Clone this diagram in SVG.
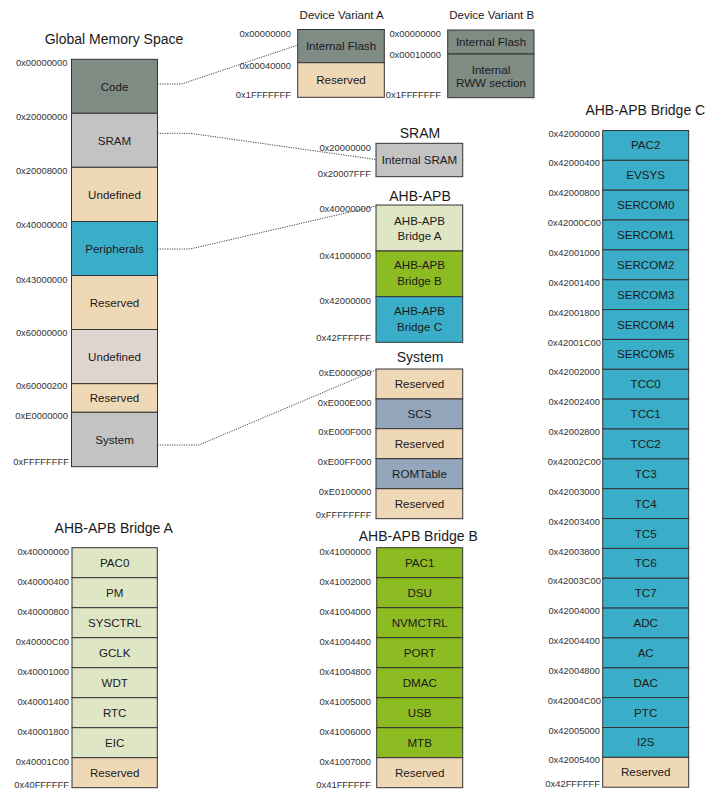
<svg xmlns="http://www.w3.org/2000/svg" width="712" height="793" viewBox="0 0 712 793">
<style>
text{font-family:"Liberation Sans",Arial,sans-serif;}
.t{font-size:14px;fill:#1a1a1a;text-anchor:middle;}
.tv{font-size:11.5px;fill:#1a1a1a;text-anchor:middle;}
.r{font-size:11.6px;fill:#1a1a1a;text-anchor:middle;}
.l{font-size:9.4px;fill:#333;text-anchor:end;}
rect{stroke:#333;stroke-width:1;}
.code{fill:#7f8c84;}
.sram{fill:#c3c3c3;}
.res{fill:#efd8b6;}
.per{fill:#3aaec8;}
.und2{fill:#dfd5ce;}
.ba{fill:#dfe6c5;}
.bb{fill:#8dbb22;}
.scs{fill:#94a6bc;}
.conn polyline{fill:none;stroke:#444;stroke-width:1;stroke-dasharray:1.2 1.2;}
</style>

<g id="global">
<text class="t" x="114" y="44.3">Global Memory Space</text>
<rect class="code" x="71.5" y="59.3" width="86" height="54"/>
<rect class="sram" x="71.5" y="113.3" width="86" height="54"/>
<rect class="res" x="71.5" y="167.3" width="86" height="54.2"/>
<rect class="per" x="71.5" y="221.5" width="86" height="54"/>
<rect class="res" x="71.5" y="275.5" width="86" height="54"/>
<rect class="und2" x="71.5" y="329.5" width="86" height="54.2"/>
<rect class="res" x="71.5" y="383.7" width="86" height="28.6"/>
<rect class="sram" x="71.5" y="412.3" width="86" height="54.4"/>
<text class="r" x="114.5" y="90.5">Code</text>
<text class="r" x="114.5" y="144.5">SRAM</text>
<text class="r" x="114.5" y="198.5">Undefined</text>
<text class="r" x="114.5" y="252.5">Peripherals</text>
<text class="r" x="114.5" y="306.5">Reserved</text>
<text class="r" x="114.5" y="360.6">Undefined</text>
<text class="r" x="114.5" y="402">Reserved</text>
<text class="r" x="114.5" y="443.5">System</text>
<text class="l" x="67.5" y="65.6">0x00000000</text>
<text class="l" x="67.5" y="120">0x20000000</text>
<text class="l" x="67.5" y="174">0x20008000</text>
<text class="l" x="67.5" y="228">0x40000000</text>
<text class="l" x="67.5" y="282.6">0x43000000</text>
<text class="l" x="67.5" y="336">0x60000000</text>
<text class="l" x="67.5" y="389.3">0x60000200</text>
<text class="l" x="68" y="419.3">0xE0000000</text>
<text class="l" x="69" y="465">0xFFFFFFFF</text>
</g>

<g id="variantA">
<text class="tv" x="341.7" y="18.8">Device Variant A</text>
<rect class="code" x="297.7" y="29.5" width="86.6" height="33.2"/>
<rect class="res" x="297.7" y="62.7" width="86.6" height="34.6"/>
<text class="r" x="341" y="50">Internal Flash</text>
<text class="r" x="341" y="84">Reserved</text>
<text class="l" x="291" y="36.6">0x00000000</text>
<text class="l" x="291" y="69">0x00040000</text>
<text class="l" x="291" y="97.6">0x1FFFFFFF</text>
</g>

<g id="variantB">
<text class="tv" x="491.7" y="18.8">Device Variant B</text>
<rect class="code" x="447.7" y="30" width="86.3" height="24"/>
<rect class="code" x="447.7" y="54" width="86.3" height="43.7"/>
<text class="r" x="491" y="46">Internal Flash</text>
<text class="r" x="491" y="74">Internal</text>
<text class="r" x="491" y="87.3">RWW section</text>
<text class="l" x="441" y="36.6">0x00000000</text>
<text class="l" x="441" y="57.6">0x00010000</text>
<text class="l" x="441" y="98.3">0x1FFFFFFF</text>
</g>

<g id="sram">
<text class="t" x="420" y="138.3">SRAM</text>
<rect class="sram" x="376" y="143.3" width="86.7" height="33.4"/>
<text class="r" x="419.5" y="164">Internal SRAM</text>
<text class="l" x="371" y="151">0x20000000</text>
<text class="l" x="371" y="176.6">0x20007FFF</text>
</g>

<g id="ahbapb">
<text class="t" x="420" y="200.7">AHB-APB</text>
<rect class="ba" x="376" y="205" width="86.7" height="46"/>
<rect class="bb" x="376" y="251" width="86.7" height="45.7"/>
<rect class="per" x="376" y="296.7" width="86.7" height="45.6"/>
<text class="r" x="419.5" y="225">AHB-APB</text>
<text class="r" x="419.5" y="239.7">Bridge A</text>
<text class="r" x="419.5" y="269">AHB-APB</text>
<text class="r" x="419.5" y="285">Bridge B</text>
<text class="r" x="419.5" y="315">AHB-APB</text>
<text class="r" x="419.5" y="331">Bridge C</text>
<text class="l" x="371" y="212.3">0x40000000</text>
<text class="l" x="371" y="258.6">0x41000000</text>
<text class="l" x="371" y="304.3">0x42000000</text>
<text class="l" x="371" y="341">0x42FFFFFF</text>
</g>

<g id="system">
<text class="t" x="420" y="362.3">System</text>
<rect class="res" x="376" y="369" width="86.7" height="30"/>
<rect class="scs" x="376" y="399" width="86.7" height="29.7"/>
<rect class="res" x="376" y="428.7" width="86.7" height="30"/>
<rect class="scs" x="376" y="458.7" width="86.7" height="30"/>
<rect class="res" x="376" y="488.7" width="86.7" height="30"/>
<text class="r" x="419.5" y="388">Reserved</text>
<text class="r" x="419.5" y="418">SCS</text>
<text class="r" x="419.5" y="447.7">Reserved</text>
<text class="r" x="419.5" y="477.7">ROMTable</text>
<text class="r" x="419.5" y="507.7">Reserved</text>
<text class="l" x="371.5" y="376">0xE0000000</text>
<text class="l" x="371.5" y="405.6">0xE000E000</text>
<text class="l" x="371.5" y="435.3">0xE000F000</text>
<text class="l" x="371.5" y="465.3">0xE00FF000</text>
<text class="l" x="371.5" y="495.3">0xE0100000</text>
<text class="l" x="371.5" y="517.6">0xFFFFFFFF</text>
</g>

<g id="bridgeA">
<text class="t" x="113.7" y="533.3">AHB-APB Bridge A</text>
<rect class="ba" x="72" y="547.7" width="85.3" height="30"/>
<rect class="ba" x="72" y="577.7" width="85.3" height="30"/>
<rect class="ba" x="72" y="607.7" width="85.3" height="30"/>
<rect class="ba" x="72" y="637.7" width="85.3" height="30"/>
<rect class="ba" x="72" y="667.7" width="85.3" height="30"/>
<rect class="ba" x="72" y="697.7" width="85.3" height="30"/>
<rect class="ba" x="72" y="727.7" width="85.3" height="30"/>
<rect class="res" x="72" y="757.7" width="85.3" height="30"/>
<text class="r" x="114.7" y="566.7">PAC0</text>
<text class="r" x="114.7" y="596.7">PM</text>
<text class="r" x="114.7" y="626.7">SYSCTRL</text>
<text class="r" x="114.7" y="656.7">GCLK</text>
<text class="r" x="114.7" y="686.7">WDT</text>
<text class="r" x="114.7" y="716.7">RTC</text>
<text class="r" x="114.7" y="746.7">EIC</text>
<text class="r" x="114.7" y="776.7">Reserved</text>
<text class="l" x="69" y="555.2">0x40000000</text>
<text class="l" x="69" y="585.2">0x40000400</text>
<text class="l" x="69" y="615.2">0x40000800</text>
<text class="l" x="69" y="645.2">0x40000C00</text>
<text class="l" x="69" y="675.2">0x40001000</text>
<text class="l" x="69" y="705.2">0x40001400</text>
<text class="l" x="69" y="735.2">0x40001800</text>
<text class="l" x="69" y="765.2">0x40001C00</text>
<text class="l" x="69" y="787.5">0x40FFFFFF</text>
</g>

<g id="bridgeB">
<text class="t" x="418.3" y="541">AHB-APB Bridge B</text>
<rect class="bb" x="376.7" y="547.7" width="86" height="30"/>
<rect class="bb" x="376.7" y="577.7" width="86" height="30"/>
<rect class="bb" x="376.7" y="607.7" width="86" height="30"/>
<rect class="bb" x="376.7" y="637.7" width="86" height="30"/>
<rect class="bb" x="376.7" y="667.7" width="86" height="30"/>
<rect class="bb" x="376.7" y="697.7" width="86" height="30"/>
<rect class="bb" x="376.7" y="727.7" width="86" height="30"/>
<rect class="res" x="376.7" y="757.7" width="86" height="30"/>
<text class="r" x="419.7" y="566.7">PAC1</text>
<text class="r" x="419.7" y="596.7">DSU</text>
<text class="r" x="419.7" y="626.7">NVMCTRL</text>
<text class="r" x="419.7" y="656.7">PORT</text>
<text class="r" x="419.7" y="686.7">DMAC</text>
<text class="r" x="419.7" y="716.7">USB</text>
<text class="r" x="419.7" y="746.7">MTB</text>
<text class="r" x="419.7" y="776.7">Reserved</text>
<text class="l" x="371" y="555">0x41000000</text>
<text class="l" x="371" y="584.5">0x41002000</text>
<text class="l" x="371" y="614.5">0x41004000</text>
<text class="l" x="371" y="644.5">0x41004400</text>
<text class="l" x="371" y="674.5">0x41004800</text>
<text class="l" x="371" y="704.5">0x41005000</text>
<text class="l" x="371" y="734.5">0x41006000</text>
<text class="l" x="371" y="764.5">0x41007000</text>
<text class="l" x="371" y="787.5">0x41FFFFFF</text>
</g>

<g id="bridgeC">
<text class="t" x="645.3" y="115">AHB-APB Bridge C</text>
<rect class="per" x="602.7" y="130.5" width="86" height="29.85"/>
<rect class="per" x="602.7" y="160.35" width="86" height="29.85"/>
<rect class="per" x="602.7" y="190.2" width="86" height="29.85"/>
<rect class="per" x="602.7" y="220.05" width="86" height="29.85"/>
<rect class="per" x="602.7" y="249.9" width="86" height="29.85"/>
<rect class="per" x="602.7" y="279.75" width="86" height="29.85"/>
<rect class="per" x="602.7" y="309.6" width="86" height="29.85"/>
<rect class="per" x="602.7" y="339.45" width="86" height="29.85"/>
<rect class="per" x="602.7" y="369.3" width="86" height="29.85"/>
<rect class="per" x="602.7" y="399.15" width="86" height="29.85"/>
<rect class="per" x="602.7" y="429" width="86" height="29.85"/>
<rect class="per" x="602.7" y="458.85" width="86" height="29.85"/>
<rect class="per" x="602.7" y="488.7" width="86" height="29.85"/>
<rect class="per" x="602.7" y="518.55" width="86" height="29.85"/>
<rect class="per" x="602.7" y="548.4" width="86" height="29.85"/>
<rect class="per" x="602.7" y="578.25" width="86" height="29.85"/>
<rect class="per" x="602.7" y="608.1" width="86" height="29.85"/>
<rect class="per" x="602.7" y="637.95" width="86" height="29.85"/>
<rect class="per" x="602.7" y="667.8" width="86" height="29.85"/>
<rect class="per" x="602.7" y="697.65" width="86" height="29.85"/>
<rect class="per" x="602.7" y="727.5" width="86" height="29.85"/>
<rect class="res" x="602.7" y="757.35" width="86" height="29.85"/>
<text class="r" x="645.7" y="149.4">PAC2</text>
<text class="r" x="645.7" y="179.3">EVSYS</text>
<text class="r" x="645.7" y="209.1">SERCOM0</text>
<text class="r" x="645.7" y="239">SERCOM1</text>
<text class="r" x="645.7" y="268.8">SERCOM2</text>
<text class="r" x="645.7" y="298.7">SERCOM3</text>
<text class="r" x="645.7" y="328.5">SERCOM4</text>
<text class="r" x="645.7" y="358.4">SERCOM5</text>
<text class="r" x="645.7" y="388.2">TCC0</text>
<text class="r" x="645.7" y="418.1">TCC1</text>
<text class="r" x="645.7" y="447.9">TCC2</text>
<text class="r" x="645.7" y="477.8">TC3</text>
<text class="r" x="645.7" y="507.6">TC4</text>
<text class="r" x="645.7" y="537.5">TC5</text>
<text class="r" x="645.7" y="567.3">TC6</text>
<text class="r" x="645.7" y="597.2">TC7</text>
<text class="r" x="645.7" y="627">ADC</text>
<text class="r" x="645.7" y="656.9">AC</text>
<text class="r" x="645.7" y="686.7">DAC</text>
<text class="r" x="645.7" y="716.6">PTC</text>
<text class="r" x="645.7" y="746.4">I2S</text>
<text class="r" x="645.7" y="776.3">Reserved</text>
<text class="l" x="600" y="136.6">0x42000000</text>
<text class="l" x="600" y="166.4">0x42000400</text>
<text class="l" x="600" y="196.3">0x42000800</text>
<text class="l" x="601" y="226.1">0x42000C00</text>
<text class="l" x="600" y="256">0x42001000</text>
<text class="l" x="600" y="285.8">0x42001400</text>
<text class="l" x="600" y="315.7">0x42001800</text>
<text class="l" x="601" y="345.5">0x42001C00</text>
<text class="l" x="600" y="375.4">0x42002000</text>
<text class="l" x="600" y="405.2">0x42002400</text>
<text class="l" x="600" y="435.1">0x42002800</text>
<text class="l" x="601" y="464.9">0x42002C00</text>
<text class="l" x="600" y="494.8">0x42003000</text>
<text class="l" x="600" y="524.6">0x42003400</text>
<text class="l" x="600" y="554.5">0x42003800</text>
<text class="l" x="601" y="584.3">0x42003C00</text>
<text class="l" x="600" y="614.2">0x42004000</text>
<text class="l" x="600" y="644">0x42004400</text>
<text class="l" x="600" y="673.9">0x42004800</text>
<text class="l" x="601" y="703.7">0x42004C00</text>
<text class="l" x="600" y="733.6">0x42005000</text>
<text class="l" x="600" y="763.4">0x42005400</text>
<text class="l" x="600" y="787">0x42FFFFFF</text>
</g>

<g id="connectors" class="conn">
<polyline points="157.5,84 181.5,84 298,45"/>
<polyline points="157.5,133.3 190,133.3 376,159.5"/>
<polyline points="157.5,249 190,249 376,206"/>
<polyline points="157.5,445 199,445 376,370"/>
</g>
</svg>
